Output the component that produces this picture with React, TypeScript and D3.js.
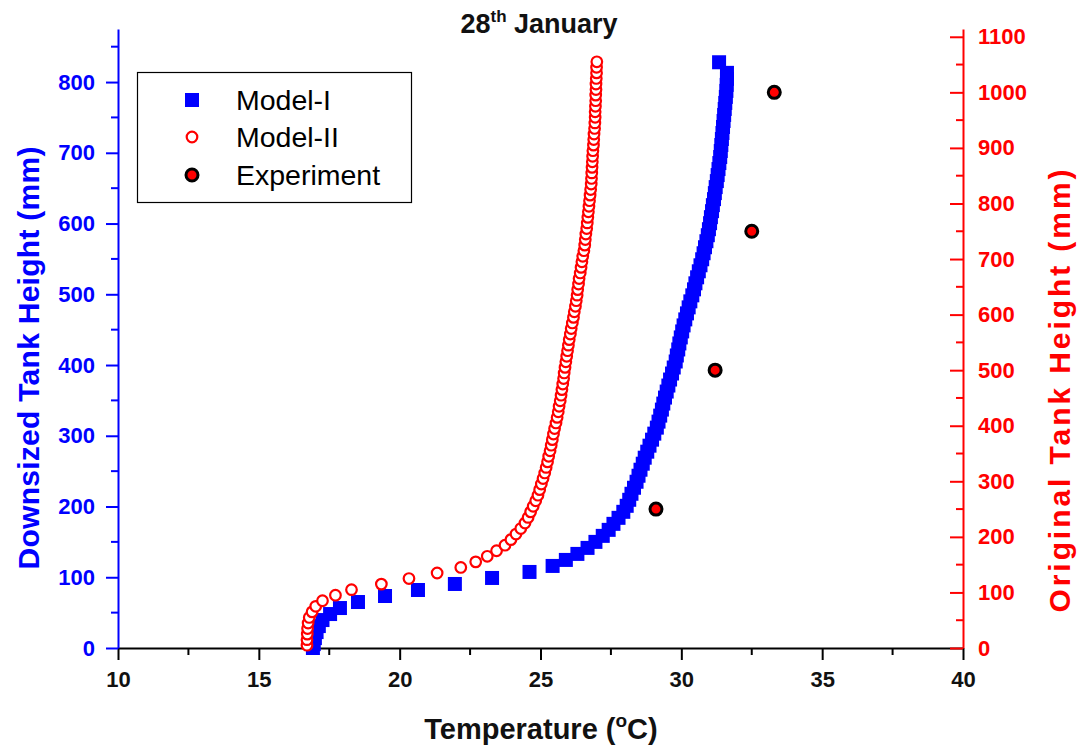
import React, { useEffect, useRef } from "react";
import * as d3 from "d3";

const W = 1079;
const H = 746;

// Model-I : downsized tank height (mm) vs temperature
const m1Height = [0, 5.5, 14, 22.5, 31, 39.5, 48, 56.5, 65, 73.5, 82, 90.5, 99, 107.5, 116, 124.5, 133, 141.5, 150, 158.5,
  167, 175.5, 184, 192.5, 201, 209.5, 218, 226.5, 235, 243.5, 252, 260.5, 269, 277.5, 286, 294.5, 303, 311.5, 320, 328.5,
  337, 345.5, 354, 362.5, 371, 379.5, 388, 396.5, 405, 413.5, 422, 430.5, 439, 447.5, 456, 464.5, 473, 481.5, 490, 498.5,
  507, 515.5, 524, 532.5, 541, 549.5, 558, 566.5, 575, 583.5, 592, 600.5, 609, 617.5, 626, 634.5, 643, 651.5, 660, 668.5,
  677, 685.5, 694, 702.5, 711, 719.5, 728, 736.5, 745, 753.5, 762, 770.5, 779, 787.5, 796, 804.5, 813, 828];
const m1Temp = [16.92, 16.95, 16.99, 17.05, 17.13, 17.26, 17.53, 17.88, 18.52, 19.48, 20.65, 21.96, 23.28, 24.61, 25.43, 25.90, 26.31, 26.67, 26.95, 27.21,
  27.42, 27.59, 27.77, 27.94, 28.06, 28.15, 28.23, 28.32, 28.41, 28.48, 28.55, 28.63, 28.70, 28.79, 28.87, 28.96, 29.04, 29.13, 29.19, 29.25,
  29.31, 29.36, 29.42, 29.48, 29.54, 29.60, 29.67, 29.73, 29.80, 29.84, 29.89, 29.93, 29.98, 30.03, 30.08, 30.14, 30.20, 30.26, 30.32, 30.39,
  30.45, 30.50, 30.56, 30.62, 30.68, 30.74, 30.79, 30.84, 30.89, 30.94, 30.98, 31.02, 31.05, 31.09, 31.12, 31.16, 31.19, 31.22, 31.26, 31.29,
  31.32, 31.35, 31.38, 31.40, 31.42, 31.44, 31.46, 31.48, 31.50, 31.52, 31.54, 31.56, 31.58, 31.60, 31.61, 31.62, 31.62, 31.34];

// Model-II : original tank height (mm) vs temperature
const m2Height = [5, 15, 25, 35, 45, 55, 65, 75, 85, 95, 105, 115, 125, 135, 145, 155, 165, 175, 185, 195,
  205, 215, 225, 235, 245, 255, 265, 275, 285, 295, 305, 315, 325, 335, 345, 355, 365, 375, 385, 395,
  405, 415, 425, 435, 445, 455, 465, 475, 485, 495, 505, 515, 525, 535, 545, 555, 565, 575, 585, 595,
  605, 615, 625, 635, 645, 655, 665, 675, 685, 695, 705, 715, 725, 735, 745, 755, 765, 775, 785, 795,
  805, 815, 825, 835, 845, 855, 865, 875, 885, 895, 905, 915, 925, 935, 945, 955, 965, 975, 985, 995,
  1005, 1015, 1025, 1035, 1045, 1055];
const m2Temp = [16.71, 16.71, 16.72, 16.73, 16.75, 16.79, 16.89, 17.02, 17.26, 17.72,
  18.29, 19.35, 20.33, 21.33, 22.17, 22.70, 23.11, 23.44, 23.74, 23.95,
  24.13, 24.30, 24.45, 24.56, 24.65, 24.74, 24.83, 24.91, 24.97, 25.03,
  25.09, 25.15, 25.20, 25.25, 25.29, 25.34, 25.38, 25.42, 25.46, 25.50,
  25.55, 25.59, 25.63, 25.66, 25.70, 25.73, 25.76, 25.79, 25.82, 25.84,
  25.87, 25.90, 25.93, 25.96, 25.99, 26.02, 26.06, 26.09, 26.13, 26.17,
  26.20, 26.24, 26.27, 26.30, 26.32, 26.35, 26.37, 26.41, 26.44, 26.47,
  26.50, 26.54, 26.57, 26.59, 26.61, 26.64, 26.66, 26.68, 26.70, 26.72,
  26.74, 26.76, 26.78, 26.80, 26.81, 26.82, 26.83, 26.84, 26.85, 26.86,
  26.88, 26.89, 26.90, 26.92, 26.93, 26.94, 26.94, 26.95, 26.96, 26.96,
  26.97, 26.97, 26.98, 26.99, 26.99, 27.00];

// Experiment (original tank height)
const expTemp = [29.1, 31.2, 32.5, 33.3];
const expHeight = [250, 500, 750, 1000];

const xTicks = [10, 15, 20, 25, 30, 35, 40];
const xMinor = [12.5, 17.5, 22.5, 27.5, 32.5, 37.5];
const leftTicks = [0, 100, 200, 300, 400, 500, 600, 700, 800];
const leftMinor = [50, 150, 250, 350, 450, 550, 650, 750, 850];
const rightTicks = [0, 100, 200, 300, 400, 500, 600, 700, 800, 900, 1000, 1100];
const rightMinor = [50, 150, 250, 350, 450, 550, 650, 750, 850, 950, 1050];

const legendItems = ["Model-I", "Model-II", "Experiment"];

const BLUE = "#0000ff";
const RED = "#ff0000";
const FONT = "Arial, 'Liberation Sans', Helvetica, sans-serif";

export default function App() {
  const ref = useRef<SVGSVGElement>(null);

  useEffect(() => {
    const svg = d3.select(ref.current);
    svg.selectAll("*").remove();

    const x = d3.scaleLinear().domain([10, 40]).range([118, 963]);
    const yL = d3.scaleLinear().domain([0, 875]).range([648, 29]);
    const yR = d3.scaleLinear().domain([0, 1114]).range([648, 29]);
    const fmt = d3.format("d");

    // x axis
    const gx = svg.append("g")
      .attr("transform", "translate(0,648)")
      .call(d3.axisBottom(x).tickValues(xTicks).tickFormat(fmt).tickSize(12).tickSizeOuter(0).tickPadding(11));
    gx.select(".domain").attr("stroke", "#000").attr("stroke-width", 2);
    gx.selectAll(".tick line").attr("stroke", "#000").attr("stroke-width", 2);
    gx.selectAll(".tick text").attr("fill", "#111").style("font", `bold 22px ${FONT}`);
    gx.selectAll(".minor").data(xMinor).join("line")
      .attr("x1", d => x(d)).attr("x2", d => x(d))
      .attr("y1", 0).attr("y2", 7)
      .attr("stroke", "#000").attr("stroke-width", 2);

    // left axis
    const gl = svg.append("g")
      .attr("transform", "translate(118,0)")
      .call(d3.axisLeft(yL).tickValues(leftTicks).tickFormat(fmt).tickSize(12).tickSizeOuter(0).tickPadding(11));
    gl.select(".domain").attr("stroke", BLUE).attr("stroke-width", 2);
    gl.selectAll(".tick line").attr("stroke", BLUE).attr("stroke-width", 2);
    gl.selectAll(".tick text").attr("fill", BLUE).style("font", `bold 22px ${FONT}`);
    gl.selectAll(".minor").data(leftMinor).join("line")
      .attr("y1", d => yL(d)).attr("y2", d => yL(d))
      .attr("x1", 0).attr("x2", -7)
      .attr("stroke", BLUE).attr("stroke-width", 2);

    // right axis
    const gr = svg.append("g")
      .attr("transform", "translate(963,0)")
      .call(d3.axisRight(yR).tickValues(rightTicks).tickFormat(fmt).tickSize(-13).tickSizeOuter(0).tickPadding(15));
    gr.select(".domain").attr("stroke", RED).attr("stroke-width", 2);
    gr.selectAll(".tick line").attr("stroke", RED).attr("stroke-width", 2);
    gr.selectAll(".tick text").attr("fill", RED).style("font", `bold 22px ${FONT}`);
    gr.selectAll(".minor").data(rightMinor).join("line")
      .attr("y1", d => yR(d)).attr("y2", d => yR(d))
      .attr("x1", 0).attr("x2", -7)
      .attr("stroke", RED).attr("stroke-width", 2);

    // data
    const m1 = m1Temp.map((t, i) => ({ t, h: m1Height[i] }));
    const m2 = m2Temp.map((t, i) => ({ t, h: m2Height[i] }));
    const ex = expTemp.map((t, i) => ({ t, h: expHeight[i] }));

    const sq = 14;
    svg.append("g").selectAll("rect").data(m1).join("rect")
      .attr("x", d => x(d.t) - sq / 2)
      .attr("y", d => yL(d.h) - sq / 2)
      .attr("width", sq).attr("height", sq)
      .attr("fill", BLUE);

    svg.append("g").selectAll("circle").data(m2).join("circle")
      .attr("cx", d => x(d.t))
      .attr("cy", d => yR(d.h))
      .attr("r", 5.3)
      .attr("fill", "#fff")
      .attr("stroke", RED)
      .attr("stroke-width", 2.2);

    svg.append("g").selectAll("circle").data(ex).join("circle")
      .attr("cx", d => x(d.t))
      .attr("cy", d => yR(d.h))
      .attr("r", 6)
      .attr("fill", RED)
      .attr("stroke", "#000")
      .attr("stroke-width", 3);

    // legend
    const lg = svg.append("g");
    lg.append("rect")
      .attr("x", 137.5).attr("y", 72.5).attr("width", 274).attr("height", 130)
      .attr("fill", "#fff").attr("stroke", "#000").attr("stroke-width", 1.2);
    const ly = [100, 137, 175];
    lg.append("rect").attr("x", 192 - 7).attr("y", ly[0] - 7).attr("width", 14).attr("height", 14).attr("fill", BLUE);
    lg.append("circle").attr("cx", 192).attr("cy", ly[1]).attr("r", 5.3)
      .attr("fill", "#fff").attr("stroke", RED).attr("stroke-width", 2.2);
    lg.append("circle").attr("cx", 192).attr("cy", ly[2]).attr("r", 6)
      .attr("fill", RED).attr("stroke", "#000").attr("stroke-width", 3);
    lg.selectAll(".lt").data(legendItems).join("text")
      .attr("x", 236).attr("y", (d, i) => ly[i] + 10)
      .attr("fill", "#000")
      .style("font", `28.5px ${FONT}`)
      .text(d => d);

    // title
    const title = svg.append("text")
      .attr("x", 539).attr("y", 33)
      .attr("text-anchor", "middle")
      .attr("fill", "#111")
      .style("font", `bold 27px ${FONT}`);
    title.append("tspan").text("28");
    title.append("tspan").attr("dy", -11).style("font-size", "17px").text("th");
    title.append("tspan").attr("dy", 11).text(" January");

    // x title
    const xt = svg.append("text")
      .attr("x", 541).attr("y", 739)
      .attr("text-anchor", "middle")
      .attr("fill", "#111")
      .style("font", `bold 29px ${FONT}`);
    xt.append("tspan").text("Temperature (");
    xt.append("tspan").attr("dy", -12).style("font-size", "19px").text("o");
    xt.append("tspan").attr("dy", 12).text("C)");

    // y titles
    svg.append("text")
      .attr("transform", "translate(28,358) rotate(-90)")
      .attr("text-anchor", "middle")
      .attr("dominant-baseline", "central")
      .attr("fill", BLUE)
      .attr("textLength", 423)
      .style("font", `bold 30px ${FONT}`)
      .text("Downsized Tank Height (mm)");

    svg.append("text")
      .attr("transform", "translate(1059,391) rotate(-90)")
      .attr("text-anchor", "middle")
      .attr("dominant-baseline", "central")
      .attr("fill", RED)
      .attr("textLength", 443)
      .style("font", `bold 30px ${FONT}`)
      .text("Original Tank Height (mm)");
  }, []);

  return (
    <svg
      ref={ref}
      width={W}
      height={H}
      style={{ position: "absolute", left: 0, top: 0, background: "#fff" }}
    />
  );
}
